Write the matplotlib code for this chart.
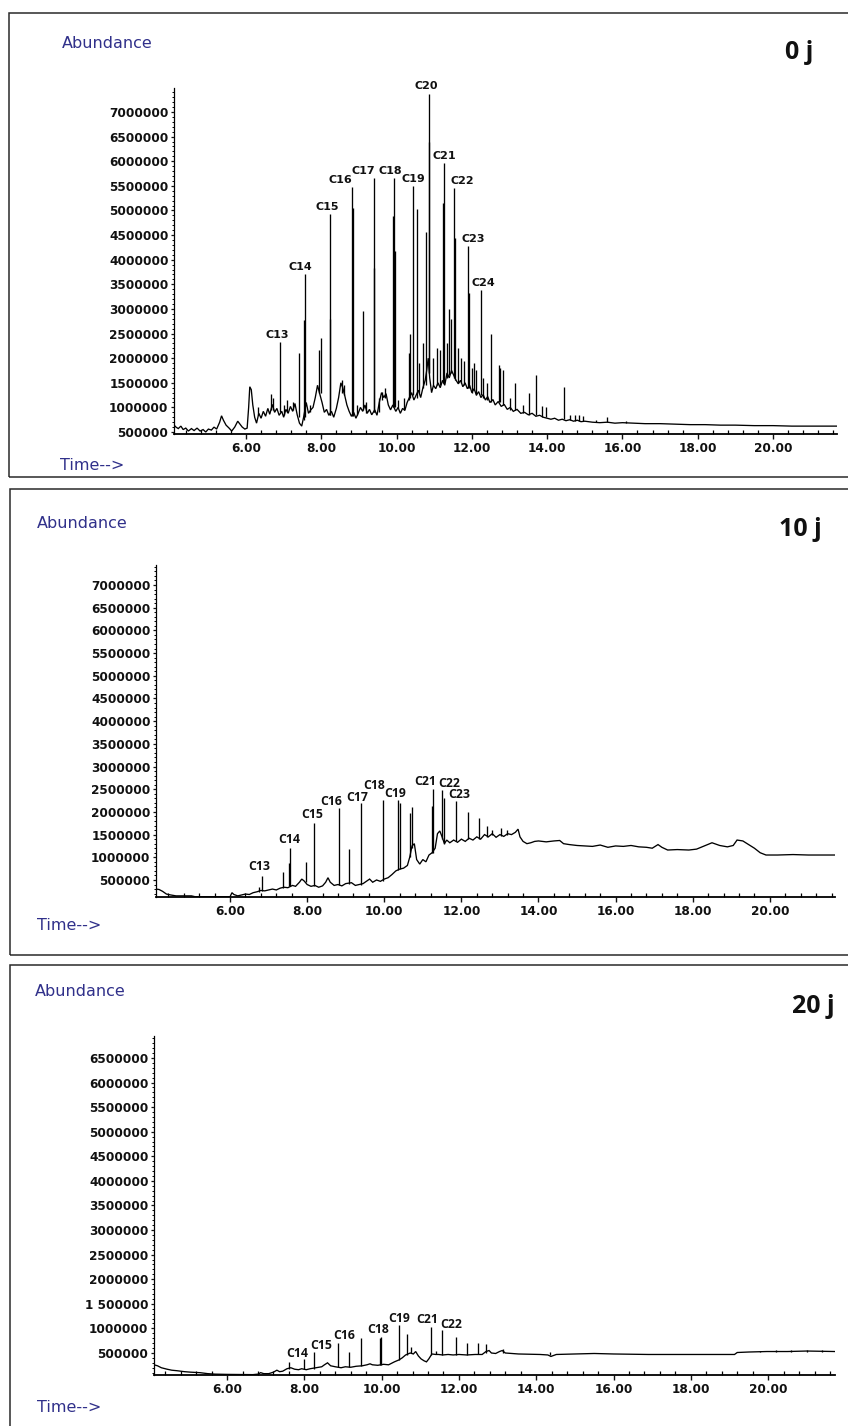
import numpy as np
import matplotlib
matplotlib.use("Agg")
import matplotlib.pyplot as plt
from matplotlib.patches import Rectangle
from matplotlib.ticker import FixedLocator, MultipleLocator, NullFormatter

# ------------------------------------------------------------------
# DATA  (time in minutes, abundance in millions of counts)
# ------------------------------------------------------------------
xtick_vals = [6, 8, 10, 12, 14, 16, 18, 20]
xtick_text = ["6.00", "8.00", "10.00", "12.00", "14.00", "16.00", "18.00", "20.00"]

ytick_vals_a = [0.5, 1.0, 1.5, 2.0, 2.5, 3.0, 3.5, 4.0, 4.5, 5.0, 5.5, 6.0, 6.5, 7.0]
ytick_text_a = ["500000", "1000000", "1500000", "2000000", "2500000", "3000000",
                "3500000", "4000000", "4500000", "5000000", "5500000", "6000000",
                "6500000", "7000000"]
ytick_vals_b = [0.5, 1.0, 1.5, 2.0, 2.5, 3.0, 3.5, 4.0, 4.5, 5.0, 5.5, 6.0, 6.5]
ytick_text_b = ["500000", "1000000", "1 500000", "2000000", "2500000", "3000000",
                "3500000", "4000000", "4500000", "5000000", "5500000", "6000000",
                "6500000"]

panel_titles = ["0 j", "10 j", "20 j"]

# ---- Panel 0 j ----
p1_base_t = [4.09, 4.14, 4.20, 4.27, 4.33, 4.40, 4.47, 4.55, 4.62, 4.70, 4.78, 4.86, 4.93,
             5.00, 5.08, 5.15, 5.22, 5.30, 5.35, 5.40, 5.47, 5.55, 5.62, 5.70, 5.78, 5.84,
             5.90, 5.97, 6.03, 6.07, 6.10, 6.14, 6.18, 6.23, 6.28, 6.34, 6.40, 6.46, 6.52,
             6.58, 6.63, 6.70, 6.76, 6.82, 6.88, 6.95, 7.00, 7.06, 7.12, 7.18, 7.24, 7.30,
             7.36, 7.42, 7.48, 7.53, 7.60, 7.66, 7.72, 7.78, 7.84, 7.90, 7.95, 8.02, 8.08,
             8.14, 8.20, 8.27, 8.33, 8.40, 8.46, 8.52, 8.57, 8.62, 8.68, 8.74, 8.80, 8.86,
             8.92, 8.98, 9.04, 9.10, 9.16, 9.22, 9.28, 9.34, 9.42, 9.48, 9.54, 9.60, 9.66,
             9.72, 9.78, 9.84, 9.90, 9.98, 10.04, 10.10, 10.16, 10.22, 10.28, 10.34, 10.40,
             10.46, 10.52, 10.58, 10.64, 10.70, 10.76, 10.80, 10.84, 10.88, 10.93, 10.98,
             11.04, 11.10, 11.16, 11.22, 11.28, 11.34, 11.40, 11.46, 11.52, 11.58, 11.64,
             11.70, 11.76, 11.82, 11.88, 11.94, 12.00, 12.06, 12.12, 12.18, 12.24, 12.30,
             12.36, 12.42, 12.48, 12.56, 12.62, 12.70, 12.78, 12.86, 12.94, 13.02, 13.10,
             13.20, 13.30, 13.40, 13.50, 13.60, 13.70, 13.80, 13.90, 14.00, 14.10, 14.20,
             14.30, 14.40, 14.50, 14.60, 14.70, 14.80, 14.90, 15.00, 15.20, 15.40, 15.60,
             15.80, 16.00, 16.30, 16.60, 17.00, 17.40, 17.80, 18.20, 18.60, 19.00, 19.50,
             20.00, 20.50, 21.00, 21.70]
p1_base_v = [0.64, 0.60, 0.57, 0.62, 0.55, 0.58, 0.52, 0.57, 0.53, 0.58, 0.52, 0.55, 0.50,
             0.56, 0.54, 0.60, 0.56, 0.70, 0.83, 0.74, 0.64, 0.58, 0.52, 0.60, 0.72, 0.66,
             0.60, 0.56, 0.58, 1.00, 1.42, 1.36, 1.05, 0.80, 0.68, 0.88, 0.78, 0.92, 0.82,
             0.98, 0.86, 1.06, 0.90, 0.98, 0.84, 0.92, 0.80, 0.96, 0.88, 1.02, 0.92, 1.08,
             0.85, 0.68, 0.62, 0.80, 1.10, 0.88, 0.95, 1.00, 1.20, 1.45, 1.30, 1.10, 0.90,
             0.96, 0.84, 0.92, 0.80, 0.98, 1.20, 1.50, 1.40, 1.25, 1.05, 0.92, 0.82, 0.90,
             0.78, 0.88, 1.00, 0.92, 1.05, 0.88, 0.96, 0.85, 0.95, 0.84, 1.10, 1.30, 1.20,
             1.28, 1.05, 0.95, 1.05, 0.92, 1.00, 0.88, 0.98, 0.94, 1.10, 1.20, 1.30,
             1.15, 1.25, 1.35, 1.20, 1.40, 1.55, 1.75, 2.00, 1.60, 1.30, 1.45,
             1.38, 1.50, 1.40, 1.55, 1.45, 1.70, 1.60, 1.75, 1.65, 1.55, 1.48,
             1.55, 1.42, 1.50, 1.38, 1.45, 1.30, 1.38, 1.25, 1.32, 1.20, 1.26,
             1.15, 1.22, 1.10, 1.16, 1.05, 1.12, 1.02, 1.06, 0.96, 1.00, 0.92,
             0.96, 0.88, 0.90, 0.85, 0.88, 0.82, 0.84, 0.80, 0.78, 0.76, 0.78,
             0.74, 0.76, 0.73, 0.75, 0.72, 0.74, 0.71, 0.72, 0.70, 0.69, 0.70,
             0.68, 0.69, 0.68, 0.67, 0.67, 0.66, 0.65, 0.65, 0.64, 0.64, 0.63,
             0.63, 0.62, 0.62, 0.62]
p1_peak_t = [6.33, 6.66, 6.72, 6.89, 7.02, 7.10, 7.25, 7.41, 7.53, 7.56, 7.70, 7.95, 7.98,
             8.22, 8.24, 8.55, 8.60, 8.82, 8.84, 8.95, 9.11, 9.20, 9.39, 9.41, 9.52, 9.62,
             9.70, 9.91, 9.93, 9.95, 10.05, 10.20, 10.33, 10.36, 10.43, 10.53, 10.60,
             10.70, 10.77, 10.85, 10.87, 10.98, 11.08, 11.15, 11.23, 11.25, 11.33, 11.39,
             11.45, 11.53, 11.55, 11.62, 11.70, 11.80, 11.91, 11.93, 12.00, 12.06, 12.12,
             12.23, 12.30, 12.40, 12.50, 12.71, 12.75, 12.82, 13.00, 13.15, 13.35, 13.53,
             13.70, 13.85, 13.98, 14.44, 14.60, 14.75, 14.85, 14.95, 15.30, 15.60, 16.10]
p1_peak_foot = [0.85, 0.95, 0.95, 0.90, 0.85, 0.90, 0.95, 0.80, 0.75, 0.80, 0.90, 1.30, 1.30,
                0.85, 0.85, 1.30, 1.25, 0.82, 0.82, 0.85, 0.95, 0.88, 0.90, 0.90, 0.90, 1.15,
                1.20, 1.00, 1.00, 1.00, 0.98, 0.95, 1.15, 1.20, 1.25, 1.20, 1.30,
                1.40, 1.45, 1.70, 1.70, 1.45, 1.45, 1.45, 1.50, 1.50, 1.60, 1.65,
                1.70, 1.60, 1.55, 1.50, 1.50, 1.45, 1.40, 1.40, 1.30, 1.35, 1.25,
                1.25, 1.20, 1.15, 1.10, 1.10, 1.10, 1.05, 0.95, 0.95, 0.88, 0.85,
                0.85, 0.80, 0.80, 0.76, 0.74, 0.73, 0.72, 0.72, 0.70, 0.70, 0.69]
p1_peak_top = [1.00, 1.28, 1.20, 2.32, 1.05, 1.15, 1.12, 2.10, 2.78, 3.72, 1.05, 2.17, 2.42,
               4.92, 2.80, 1.55, 1.45, 5.48, 5.05, 1.05, 2.95, 1.10, 5.66, 3.83, 1.20, 1.32,
               1.40, 4.88, 5.66, 4.17, 1.15, 1.20, 2.10, 2.50, 5.50, 5.03, 1.90,
               2.30, 4.57, 7.36, 6.40, 2.00, 2.20, 2.17, 5.15, 5.96, 2.30, 3.00,
               2.80, 5.45, 4.45, 2.20, 2.00, 1.95, 4.27, 3.32, 1.80, 1.90, 1.75,
               3.39, 1.60, 1.50, 2.50, 1.86, 1.80, 1.75, 1.20, 1.50, 1.05, 1.29,
               1.66, 1.02, 1.00, 1.41, 0.85, 0.85, 0.84, 0.82, 0.75, 0.80, 0.72]
p1_label_names = ["C13", "C14", "C15", "C16", "C17", "C18", "C19", "C20", "C21", "C22", "C23", "C24"]
p1_label_t = [6.89, 7.56, 8.22, 8.82, 9.39, 9.93, 10.43, 10.85, 11.25, 11.53, 11.91, 12.23]
p1_label_top = [2.32, 3.72, 4.92, 5.48, 5.66, 5.66, 5.50, 7.36, 5.96, 5.45, 4.27, 3.39]

# ---- Panel 10 j ----
p2_base_t = [4.08, 4.16, 4.25, 4.35, 4.46, 4.60, 5.00, 5.10, 6.00, 6.05, 6.10, 6.20, 6.30,
             6.40, 6.50, 6.60, 6.70, 6.80, 6.90, 7.00, 7.10, 7.20, 7.30, 7.40, 7.50, 7.62,
             7.70, 7.80, 7.86, 7.92, 8.00, 8.10, 8.20, 8.30, 8.40, 8.48, 8.54, 8.60, 8.70,
             8.80, 8.90, 9.00, 9.15, 9.25, 9.35, 9.45, 9.55, 9.62, 9.70, 9.80, 9.90, 10.00,
             10.10, 10.20, 10.30, 10.40, 10.50, 10.60, 10.66, 10.72, 10.78, 10.84, 10.92,
             11.00, 11.08, 11.16, 11.24, 11.32, 11.38, 11.44, 11.50, 11.56, 11.62, 11.70,
             11.80, 11.90, 12.00, 12.10, 12.20, 12.30, 12.40, 12.50, 12.60, 12.70, 12.80,
             12.90, 13.00, 13.10, 13.20, 13.30, 13.40, 13.47, 13.52, 13.60, 13.70, 13.80,
             13.90, 14.00, 14.20, 14.40, 14.55, 14.65, 14.80, 15.00, 15.20, 15.40, 15.60,
             15.80, 16.00, 16.20, 16.40, 16.60, 16.80, 16.95, 17.10, 17.20, 17.35, 17.60,
             17.90, 18.10, 18.30, 18.50, 18.70, 18.90, 19.05, 19.15, 19.30, 19.45, 19.60,
             19.75, 19.90, 20.20, 20.60, 21.00, 21.69]
p2_base_v = [0.30, 0.29, 0.25, 0.19, 0.17, 0.15, 0.15, 0.13, 0.13, 0.22, 0.18, 0.15, 0.17,
             0.19, 0.18, 0.22, 0.24, 0.27, 0.26, 0.28, 0.30, 0.28, 0.32, 0.34, 0.33, 0.38,
             0.36, 0.45, 0.52, 0.48, 0.40, 0.36, 0.38, 0.34, 0.37, 0.45, 0.55, 0.45, 0.38,
             0.40, 0.37, 0.42, 0.44, 0.38, 0.40, 0.42, 0.48, 0.52, 0.45, 0.50, 0.47, 0.52,
             0.55, 0.62, 0.70, 0.74, 0.76, 0.82, 1.00, 1.25, 1.30, 0.95, 0.85,
             0.95, 0.90, 1.05, 1.10, 1.20, 1.52, 1.58, 1.45, 1.30, 1.38, 1.32,
             1.38, 1.33, 1.40, 1.35, 1.42, 1.38, 1.45, 1.40, 1.50, 1.45, 1.52,
             1.44, 1.50, 1.46, 1.52, 1.50, 1.55, 1.62, 1.45, 1.35, 1.30, 1.32,
             1.35, 1.36, 1.34, 1.36, 1.37, 1.30, 1.28, 1.26, 1.25, 1.24, 1.27,
             1.22, 1.25, 1.24, 1.26, 1.23, 1.22, 1.20, 1.28, 1.22, 1.16, 1.17,
             1.16, 1.18, 1.25, 1.32, 1.26, 1.23, 1.26, 1.38, 1.36, 1.28, 1.20,
             1.10, 1.05, 1.05, 1.06, 1.05, 1.05]
p2_peak_t = [6.75, 6.83, 7.38, 7.53, 7.56, 7.97, 8.19, 8.82, 9.09, 9.40, 9.96, 10.35, 10.40,
             10.66, 10.72, 11.24, 11.26, 11.51, 11.56, 11.85, 12.17, 12.45, 12.67, 12.80,
             13.02, 13.19]
p2_peak_foot = [0.24, 0.26, 0.33, 0.36, 0.36, 0.45, 0.37, 0.40, 0.42, 0.40, 0.48, 0.72, 0.74,
                1.00, 1.20, 1.10, 1.10, 1.40, 1.30, 1.35, 1.40, 1.40, 1.45, 1.50,
                1.48, 1.50]
p2_peak_top = [0.35, 0.59, 0.68, 0.88, 1.20, 0.90, 1.75, 2.08, 1.18, 2.20, 2.26, 2.26, 2.19,
               1.98, 2.10, 2.12, 2.50, 2.48, 2.30, 2.23, 2.00, 1.86, 1.68, 1.60,
               1.65, 1.60]
p2_label_names = ["C13", "C14", "C15", "C16", "C17", "C18", "C19", "C21", "C22", "C23"]
p2_label_t = [6.83, 7.56, 8.19, 8.82, 9.40, 9.96, 10.35, 11.26, 11.51, 11.85]
p2_label_top = [0.59, 1.20, 1.75, 2.08, 2.20, 2.26, 2.26, 2.50, 2.48, 2.23]

# ---- Panel 20 j ----
p3_base_t = [4.11, 4.20, 4.30, 4.45, 4.57, 4.70, 4.90, 5.06, 5.30, 5.50, 5.69, 6.00, 6.67,
             6.80, 6.87, 6.95, 7.08, 7.20, 7.29, 7.36, 7.44, 7.55, 7.65, 7.75, 7.85, 7.93,
             8.05, 8.15, 8.30, 8.45, 8.52, 8.60, 8.68, 8.80, 8.95, 9.06, 9.20, 9.34, 9.50,
             9.62, 9.70, 9.76, 9.90, 10.05, 10.18, 10.33, 10.45, 10.53, 10.62, 10.74, 10.82,
             10.88, 10.95, 11.02, 11.10, 11.16, 11.22, 11.30, 11.40, 11.47, 11.58, 11.72,
             11.85, 12.00, 12.20, 12.42, 12.60, 12.70, 12.78, 12.84, 12.95, 13.05, 13.12,
             13.20, 13.54, 14.10, 14.30, 14.38, 14.45, 14.52, 15.00, 15.50, 16.00, 16.90,
             17.50, 18.30, 19.13, 19.20, 19.50, 19.97, 20.50, 21.00, 21.73]
p3_base_v = [0.26, 0.24, 0.20, 0.17, 0.15, 0.14, 0.12, 0.11, 0.10, 0.08, 0.07, 0.065, 0.06,
             0.07, 0.10, 0.08, 0.08, 0.11, 0.15, 0.12, 0.13, 0.18, 0.20, 0.17, 0.16, 0.18,
             0.16, 0.18, 0.20, 0.22, 0.26, 0.30, 0.24, 0.22, 0.20, 0.22, 0.21, 0.23, 0.24,
             0.26, 0.28, 0.26, 0.25, 0.27, 0.26, 0.32, 0.36, 0.40, 0.46, 0.50, 0.48,
             0.53, 0.44, 0.38, 0.34, 0.32, 0.38, 0.48, 0.47, 0.47, 0.46, 0.47,
             0.46, 0.47, 0.46, 0.47, 0.47, 0.53, 0.55, 0.50, 0.49, 0.53, 0.55,
             0.50, 0.48, 0.47, 0.46, 0.43, 0.45, 0.47, 0.48, 0.49, 0.48, 0.47,
             0.47, 0.47, 0.47, 0.51, 0.52, 0.53, 0.53, 0.54, 0.53]
p3_peak_t = [7.61, 8.00, 8.24, 8.87, 9.16, 9.47, 9.96, 9.99, 10.44, 10.65, 10.75, 11.28,
             11.40, 11.57, 11.92, 12.20, 12.50, 12.71, 13.13, 14.35, 19.80, 20.20, 20.60,
             21.00, 21.40]
p3_peak_foot = [0.18, 0.17, 0.18, 0.22, 0.21, 0.23, 0.26, 0.26, 0.35, 0.45, 0.50, 0.45,
                0.47, 0.46, 0.46, 0.46, 0.47, 0.50, 0.50, 0.45, 0.52, 0.53, 0.53,
                0.53, 0.53]
p3_peak_top = [0.32, 0.38, 0.53, 0.70, 0.53, 0.80, 0.80, 0.83, 1.06, 0.89, 0.62, 1.03,
               0.55, 0.96, 0.83, 0.70, 0.70, 0.69, 0.58, 0.52, 0.55, 0.56, 0.56,
               0.57, 0.56]
p3_label_names = ["C14", "C15", "C16", "C18", "C19", "C21", "C22"]
p3_label_t = [7.61, 8.24, 8.87, 9.99, 10.44, 11.28, 11.57]
p3_label_top = [0.32, 0.53, 0.70, 0.83, 1.06, 1.03, 0.96]

# ------------------------------------------------------------------
# LAYOUT / STYLE (pixels of the 848 x 1426 canvas)
# ------------------------------------------------------------------
W, H = 848, 1426
fig = plt.figure(figsize=(W / 100, H / 100), dpi=100)
fig.patch.set_facecolor("white")

NAVY = "#30308a"
INK = "#111111"

def fx(x):
    return x / W

def fy(y):
    return 1 - y / H

label_font_a = dict(family="DejaVu Sans", weight="bold", size=8.0)
label_font_b = dict(family="Open Sans", weight="bold", size=8.8)

panels = [
    dict(box=(9, 13, 860, 477), ax=(174, 837, 88, 434), xlim=(4.087, 21.70), ylim=(0.46, 7.488),
         yv=ytick_vals_a, yt=ytick_text_a,
         base=(p1_base_t, p1_base_v), peaks=(p1_peak_t, p1_peak_foot, p1_peak_top),
         labels=(p1_label_names, p1_label_t, p1_label_top),
         ldx=[-2, -4, -2, -12, -10, -4, 1, -2, 1, 8, 5, 3],
         ldy=[4, 4, 4, 4, 4, 4, 4, 5, 4, 4, 4, 4],
         lfont=label_font_a,
         abund=(62, 43), time=(60, 466), title=(813, 59)),
    dict(box=(10, 489, 860, 955), ax=(156, 835, 565, 897), xlim=(4.08, 21.69), ylim=(0.125, 7.44),
         yv=ytick_vals_a, yt=ytick_text_a,
         base=(p2_base_t, p2_base_v), peaks=(p2_peak_t, p2_peak_foot, p2_peak_top),
         labels=(p2_label_names, p2_label_t, p2_label_top),
         ldx=[-3, -1, -2, -8, -4, -9, -3, -8, 7, 4],
         ldy=[6, 5, 5, 3, 2, 11, 3, 4, 3, 3],
         lfont=label_font_b,
         abund=(37, 523), time=(37, 926), title=(822, 536)),
    dict(box=(10, 965, 860, 1440), ax=(154, 835, 1036, 1375), xlim=(4.11, 21.73), ylim=(0.0525, 6.947),
         yv=ytick_vals_b, yt=ytick_text_b,
         base=(p3_base_t, p3_base_v), peaks=(p3_peak_t, p3_peak_foot, p3_peak_top),
         labels=(p3_label_names, p3_label_t, p3_label_top),
         ldx=[8, 8, 6, -3, 0, -4, 9],
         ldy=[5, 3, 4, 4, 3, 4, 2],
         lfont=label_font_b,
         abund=(35, 991), time=(37, 1407), title=(835, 1013)),
]

for i, p in enumerate(panels):
    # outer frame (open to the right like the scanned page)
    bx0, by0, bx1, by1 = p["box"]
    fig.add_artist(Rectangle((fx(bx0), fy(by1)), fx(bx1 - bx0), (by1 - by0) / H,
                             transform=fig.transFigure, fill=False,
                             edgecolor="#2a2a2a", linewidth=1.1, clip_on=False))

    x0, x1, yt0, yb0 = p["ax"]
    ax = fig.add_axes([fx(x0), fy(yb0), fx(x1 - x0), (yb0 - yt0) / H])
    ax.set_xlim(*p["xlim"])
    ax.set_ylim(*p["ylim"])
    for s in ("top", "right"):
        ax.spines[s].set_visible(False)
    ax.spines["left"].set_linewidth(0.9)
    ax.spines["bottom"].set_linewidth(1.3)
    ax.patch.set_alpha(0)

    # chromatogram trace
    bt, bv = p["base"]
    ax.plot(bt, bv, color="black", linewidth=0.95, solid_joinstyle="miter")
    pt, pf, ptop = p["peaks"]
    ax.vlines(pt, pf, ptop, color="black", linewidth=0.95)

    # peak labels
    names, lt, ltop = p["labels"]
    for name, t, v, dx, dy in zip(names, lt, ltop, p["ldx"], p["ldy"]):
        ax.annotate(name, xy=(t, v), xytext=(dx, dy), textcoords="offset pixels",
                    ha="center", va="baseline", color=INK, **p["lfont"])

    # ticks
    ax.xaxis.set_major_locator(FixedLocator(xtick_vals))
    ax.set_xticklabels(xtick_text)
    ax.xaxis.set_minor_locator(MultipleLocator(0.4))
    ax.tick_params(axis="x", which="major", direction="out", length=3.5, width=1.0,
                   pad=2.2, labelsize=8.7, colors=INK)
    ax.tick_params(axis="x", which="minor", direction="in", length=3.0, width=0.9)
    ax.yaxis.set_major_locator(FixedLocator(p["yv"]))
    ax.set_yticklabels(p["yt"])
    ax.yaxis.set_minor_locator(MultipleLocator(0.1))
    ax.yaxis.set_minor_formatter(NullFormatter())
    ax.tick_params(axis="y", which="major", direction="out", length=2.5, width=0.9,
                   pad=1.5, labelsize=8.7, colors=INK)
    ax.tick_params(axis="y", which="minor", direction="out", length=1.5, width=0.7)
    for lab in ax.get_xticklabels() + ax.get_yticklabels():
        lab.set_fontweight("bold")
        lab.set_family("DejaVu Sans")

    # texts
    ax_, ay_ = p["abund"]
    fig.text(fx(ax_), fy(ay_), "Abundance", color=NAVY, fontsize=11.5,
             family="DejaVu Sans", ha="left", va="center")
    tx_, ty_ = p["time"]
    fig.text(fx(tx_), fy(ty_), "Time-->", color=NAVY, fontsize=11.5,
             family="DejaVu Sans", ha="left", va="center")
    ttx, tty = p["title"]
    fig.text(fx(ttx), fy(tty), panel_titles[i], color="#111111", fontsize=18,
             family="Open Sans", weight="bold", ha="right", va="baseline")

fig.savefig("out.png", dpi=100)
